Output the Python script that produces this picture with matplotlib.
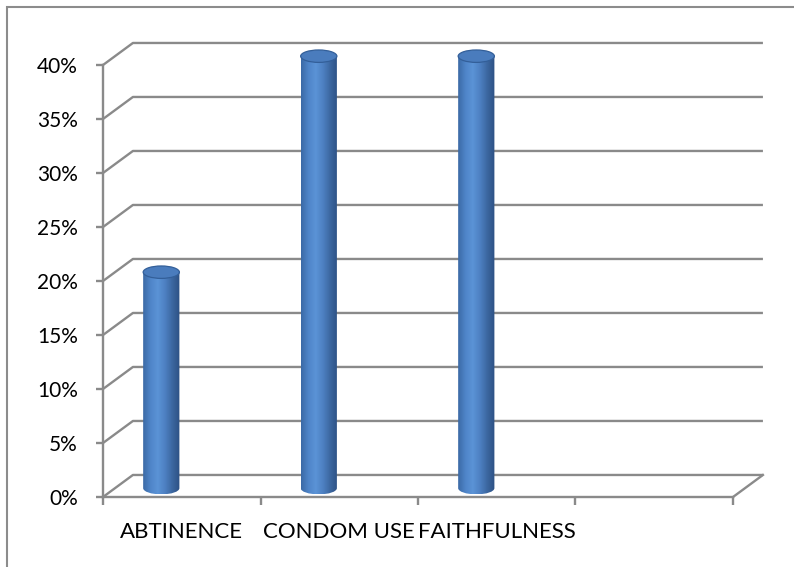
import numpy as np
import matplotlib
matplotlib.use("Agg")
import matplotlib.pyplot as plt
from matplotlib.path import Path
from matplotlib.patches import PathPatch, Ellipse, Rectangle
from matplotlib.ticker import FuncFormatter
from matplotlib.transforms import offset_copy

plt.rcParams['font.family'] = ['Lato', 'DejaVu Sans']

# Datos
categories = ['ABTINENCE', 'CONDOM USE', 'FAITHFULNESS', '']
values = [20, 40, 40]
y_ticks = list(range(0, 45, 5))
y_max = 40

# Profundidad de la pared del fondo (en unidades de los ejes)
DX, DY = 0.19, 2.04
n_slots = len(categories)

grid_color = '#8a8a8a'

fig = plt.figure(figsize=(7.94, 5.67), dpi=100)
fig.patches.append(Rectangle((7 / 794, -0.1), 1.2, 1.1 - 7 / 567,
                             transform=fig.transFigure, fill=False,
                             edgecolor='#8c8c8c', linewidth=1.5))

# El eje y llega hasta 44 para que quepan las tapas de los cilindros
y_top = 44
ax = fig.add_axes([103 / 794, 70 / 567, 630 / 794, 432 / 567 * y_top / y_max])
ax.set_xlim(0, n_slots)
ax.set_ylim(0, y_top)

# Lineas de la cuadricula (pared lateral + pared del fondo)
for v in y_ticks:
    ax.plot([0, DX, n_slots + DX], [v, v + DY, v + DY], color=grid_color,
            lw=1.7, clip_on=False, zorder=1, solid_capstyle='butt')
# Borde derecho del piso
ax.plot([n_slots, n_slots + DX], [0, DY], color=grid_color, lw=1.7,
        clip_on=False, zorder=1)

# Ejes
for side in ['top', 'right']:
    ax.spines[side].set_visible(False)
for side in ['left', 'bottom']:
    ax.spines[side].set_color(grid_color)
    ax.spines[side].set_linewidth(1.7)
    ax.spines[side].set_zorder(1)
ax.spines['left'].set_bounds(0, y_max)
ax.set_yticks(y_ticks)
ax.yaxis.set_major_formatter(FuncFormatter(lambda v, p: f'{int(v)}%'))
ax.tick_params(axis='y', length=5, width=1.7, color=grid_color, pad=13,
               labelsize=15)
ax.set_xticks(range(n_slots + 1))
ax.set_xticklabels([])
ax.tick_params(axis='x', length=6, width=1.7, color=grid_color)
ax.set_facecolor('none')

# Etiquetas de las categorias, 35 px debajo del eje
label_tr = offset_copy(ax.get_xaxis_transform(), fig=fig, y=-35, units='dots')
for i, name in enumerate(categories):
    ax.text(i + 0.5, 0, name, transform=label_tr,
            ha='center', va='center', fontsize=16)

# Cilindros
cmap = matplotlib.colors.LinearSegmentedColormap.from_list(
    'cyl', ['#3b6aa6', '#4f85c9', '#5b93d6', '#4d80c2', '#3c67a0', '#2d5184'])
grad = cmap(np.linspace(0, 1, 64))[None, :, :]

w = 0.23
eh = 1.15
depth = 0.4
bar_shift = -0.206
for i, v in enumerate(values):
    cx = i + 0.5 + bar_shift + depth * DX
    base = depth * DY
    top = v + depth * DY
    k = 0.5523
    hw, hh = w / 2, eh / 2
    verts = [(cx - hw, top), (cx - hw, base),
             (cx - hw, base - k * hh), (cx - k * hw, base - hh), (cx, base - hh),
             (cx + k * hw, base - hh), (cx + hw, base - k * hh), (cx + hw, base),
             (cx + hw, top), (cx - hw, top)]
    codes = [Path.MOVETO, Path.LINETO,
             Path.CURVE4, Path.CURVE4, Path.CURVE4,
             Path.CURVE4, Path.CURVE4, Path.CURVE4,
             Path.LINETO, Path.CLOSEPOLY]
    body = PathPatch(Path(verts, codes), facecolor='none', edgecolor='none',
                     zorder=3, clip_on=False)
    ax.add_patch(body)
    im = ax.imshow(grad, extent=[cx - hw, cx + hw, base - hh, top],
                   aspect='auto', zorder=3, interpolation='bilinear')
    im.set_clip_path(body)
    ax.add_patch(Ellipse((cx, top), w, eh, facecolor='#4a7cbd',
                         edgecolor='#335f99', lw=0.9, zorder=4, clip_on=False))

ax.set_xlim(0, n_slots)
ax.set_ylim(0, y_top)

plt.savefig('out.png', dpi=100)
